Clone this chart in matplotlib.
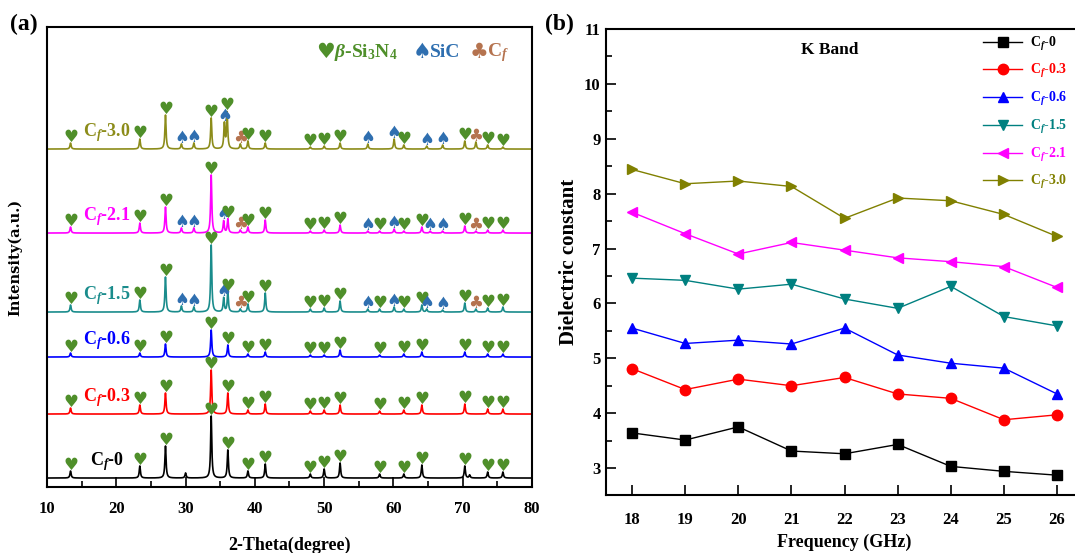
import numpy as np
import matplotlib
matplotlib.use("Agg")
import matplotlib.pyplot as plt

plt.rcParams['font.family'] = ['Liberation Serif', 'DejaVu Sans']
plt.rcParams['font.weight'] = 'bold'
plt.rcParams['axes.labelweight'] = 'bold'
plt.rcParams['mathtext.fontset'] = 'custom'
plt.rcParams['mathtext.rm'] = 'Liberation Serif:bold'
plt.rcParams['mathtext.it'] = 'Liberation Serif:italic:bold'
plt.rcParams['mathtext.bf'] = 'Liberation Serif:bold'

# ---- (a) XRD data: peaks as (2theta, height, phase) ----
# phase: h = beta-Si3N4, s = SiC, c = Cf, '' = not marked
labels = ['C$_f$-0', 'C$_f$-0.3', 'C$_f$-0.6', 'C$_f$-1.5', 'C$_f$-2.1', 'C$_f$-3.0']
line_colors = ['#000000', '#ff0000', '#0000ff', '#1a8c8c', '#ff00ff', '#8c8c1a']
offsets = [9, 73, 130, 175, 254, 338]

peaks_cf0 = [(13.4, 7, 'h'), (23.4, 12, 'h'), (27.1, 32, 'h'), (30.0, 5, ''),
             (33.7, 62, 'h'), (36.1, 28, 'h'), (39.0, 7, 'h'), (41.5, 14, 'h'),
             (48.0, 4, 'h'), (50.0, 9, 'h'), (52.3, 15, 'h'), (58.0, 4, 'h'),
             (61.5, 4, 'h'), (64.1, 13, 'h'), (70.3, 12, 'h'), (71.0, 3, ''),
             (73.6, 6, 'h'), (75.8, 6, 'h')]
peaks_cf03 = [(13.4, 6, 'h'), (23.4, 9, 'h'), (27.1, 21, 'h'), (33.7, 44, 'h'),
              (36.1, 21, 'h'), (39.0, 4, 'h'), (41.5, 10, 'h'), (48.0, 3, 'h'),
              (50.0, 4, 'h'), (52.3, 9, 'h'), (58.0, 3, 'h'), (61.5, 4, 'h'),
              (64.1, 9, 'h'), (70.3, 10, 'h'), (73.6, 5, 'h'), (75.8, 5, 'h')]
peaks_cf06 = [(13.4, 4, 'h'), (23.4, 4, 'h'), (27.1, 13, 'h'), (33.7, 27, 'h'),
              (36.1, 12, 'h'), (39.0, 3, 'h'), (41.5, 5, 'h'), (48.0, 2, 'h'),
              (50.0, 2, 'h'), (52.3, 7, 'h'), (58.0, 2, 'h'), (61.5, 3, 'h'),
              (64.1, 5, 'h'), (70.3, 5, 'h'), (73.6, 3, 'h'), (75.8, 3, 'h')]
peaks_cf15 = [(13.4, 7, 'h'), (23.4, 12, 'h'), (27.1, 35, 'h'), (29.4, 6, 's'),
              (31.2, 5, 's'), (33.7, 67, 'h'), (35.5, 14, 's'), (36.1, 20, 'h'),
              (37.9, 3, 'c'), (39.0, 8, 'h'), (41.5, 19, 'h'), (48.0, 3, 'h'),
              (50.0, 4, 'h'), (52.3, 11, 'h'), (56.3, 3, 's'), (58.0, 3, 'h'),
              (60.1, 5, 's'), (61.5, 3, 'h'), (64.1, 7, 'h'), (64.8, 3, 's'),
              (67.1, 2, 's'), (70.3, 9, 'h'), (71.9, 3, 'c'), (73.6, 4, 'h'),
              (75.8, 5, 'h')]
peaks_cf21 = [(13.4, 6, 'h'), (23.4, 10, 'h'), (27.1, 26, 'h'), (29.4, 5, 's'),
              (31.2, 5, 's'), (33.7, 58, 'h'), (35.5, 12, 's'), (36.1, 14, 'h'),
              (37.9, 3, 'c'), (39.0, 6, 'h'), (41.5, 13, 'h'), (48.0, 2, 'h'),
              (50.0, 3, 'h'), (52.3, 8, 'h'), (56.3, 2, 's'), (58.0, 2, 'h'),
              (60.1, 4, 's'), (61.5, 2, 'h'), (64.1, 6, 'h'), (65.3, 2, 's'),
              (67.1, 2, 's'), (70.3, 7, 'h'), (71.9, 2, 'c'), (73.6, 3, 'h'),
              (75.8, 3, 'h')]
peaks_cf30 = [(13.4, 6, 'h'), (23.4, 10, 'h'), (27.1, 34, 'h'), (29.4, 5, 's'),
              (31.2, 6, 's'), (33.7, 31, 'h'), (35.6, 25, 's'), (36.0, 36, 'h'),
              (37.9, 5, 'c'), (39.0, 8, 'h'), (41.5, 6, 'h'), (48.0, 2, 'h'),
              (50.0, 3, 'h'), (52.3, 6, 'h'), (56.3, 5, 's'), (60.1, 10, 's'),
              (61.5, 4, 'h'), (64.8, 3, 's'), (67.1, 4, 's'), (70.3, 8, 'h'),
              (71.9, 7, 'c'), (73.6, 4, 'h'), (75.8, 2, 'h')]
all_peaks = [peaks_cf0, peaks_cf03, peaks_cf06, peaks_cf15, peaks_cf21, peaks_cf30]

# ---- (b) dielectric constant, K band ----
freq = [18, 19, 20, 21, 22, 23, 24, 25, 26]
eps_cf0 = [3.64, 3.51, 3.75, 3.31, 3.26, 3.43, 3.03, 2.94, 2.87]
eps_cf03 = [4.81, 4.43, 4.62, 4.50, 4.65, 4.35, 4.27, 3.88, 3.97]
eps_cf06 = [5.55, 5.27, 5.33, 5.26, 5.55, 5.06, 4.91, 4.82, 4.35]
eps_cf15 = [6.46, 6.42, 6.26, 6.35, 6.08, 5.91, 6.31, 5.76, 5.59]
eps_cf21 = [7.66, 7.27, 6.90, 7.11, 6.97, 6.83, 6.76, 6.67, 6.29]
eps_cf30 = [8.44, 8.18, 8.23, 8.13, 7.55, 7.92, 7.87, 7.62, 7.22]
all_eps = [eps_cf0, eps_cf03, eps_cf06, eps_cf15, eps_cf21, eps_cf30]
markers = ['s', 'o', '^', 'v', '<', '>']

phase_sym = {'h': ('\u2665', '#4f8f2a'), 's': ('\u2660', '#2f6fb0'), 'c': ('\u2663', '#b5734f')}

fig = plt.figure(figsize=(10.75, 5.53), dpi=100)

# ---------------- panel (a) ----------------
ax = fig.add_axes([0.0437, 0.1193, 0.4512, 0.8318])
tt = np.linspace(10, 80, 7001)
for peaks, off, col, lab in zip(all_peaks, offsets, line_colors, labels):
    y = np.zeros_like(tt)
    for pos, h, ph in peaks:
        y += h / (1 + ((tt - pos) / 0.1) ** 2)
    ax.plot(tt, y + off, color=col, lw=1.2)
    for pos, h, ph in peaks:
        if ph == '':
            continue
        near = (tt > pos - 0.12) & (tt < pos + 0.12)
        top = y[near].max() + off
        sym, c = phase_sym[ph]
        ax.text(pos, top + 1, sym, color=c, family='DejaVu Sans', fontsize=12,
                ha='center', va='baseline')
    ax.text(18.6, off + 16, lab, color=col, fontsize=13, ha='center', va='center')

ax.set_xlim(10, 80)
ax.set_ylim(0, 460)
ax.set_xticks(range(10, 81, 10))
ax.set_xticks(range(15, 80, 10), minor=True)
ax.set_yticks([])
ax.tick_params(axis='x', direction='in', length=7, width=1.2, labelsize=12, pad=10)
ax.tick_params(axis='x', which='minor', direction='in', length=4, width=1.2)
for s in ax.spines.values():
    s.set_linewidth(1.5)
ax.set_xlabel('2-Theta(degree)', fontsize=13, labelpad=14)
ax.set_ylabel('Intensity(a.u.)', fontsize=10.5, family='DejaVu Serif')
ax.yaxis.set_label_coords(-0.05, 0.5)

# phase key
ky = 0.945
ax.text(0.575, ky, '\u2665', color='#4f8f2a', family='DejaVu Sans', fontsize=15,
        transform=ax.transAxes, ha='center', va='center')
ax.text(0.592, ky, r'$\beta$-Si$_3$N$_4$', color='#4f8f2a', fontsize=14,
        transform=ax.transAxes, ha='left', va='center')
ax.text(0.773, ky, '\u2660', color='#2f6fb0', family='DejaVu Sans', fontsize=15,
        transform=ax.transAxes, ha='center', va='center')
ax.text(0.790, ky, 'SiC', color='#2f6fb0', fontsize=14,
        transform=ax.transAxes, ha='left', va='center')
ax.text(0.891, ky, '\u2663', color='#b5734f', family='DejaVu Sans', fontsize=15,
        transform=ax.transAxes, ha='center', va='center')
ax.text(0.907, ky, 'C$_f$', color='#b5734f', fontsize=14,
        transform=ax.transAxes, ha='left', va='center')

fig.text(0.009, 0.955, '(a)', fontsize=17, va='center')

# ---------------- panel (b) ----------------
bx = fig.add_axes([0.5633, 0.104, 0.4447, 0.8436])
leg_colors = ['#000000', '#ff0000', '#0000ff', '#008080', '#ff00ff', '#808000']
for eps, col, mk, lab in zip(all_eps, leg_colors, markers, labels):
    bx.plot(freq, eps, color=col, marker=mk, markersize=7.5, lw=1, label=lab)
bx.set_xlim(17.5, 26.5)
bx.set_ylim(2.5, 11)
bx.set_xticks(freq)
bx.set_yticks(range(3, 12))
bx.set_yticks(np.arange(3.5, 11, 1), minor=True)
bx.tick_params(direction='in', length=7, width=1.2, labelsize=12)
bx.tick_params(axis='x', pad=12)
bx.tick_params(which='minor', direction='in', length=4, width=1.2)
for s in bx.spines.values():
    s.set_linewidth(1.5)
bx.set_xlabel('Frequency (GHz)', fontsize=13, labelpad=4)
bx.set_ylabel('Dielectric constant', fontsize=15, labelpad=4)
bx.text(0.47, 0.955, 'K Band', fontsize=12.5, transform=bx.transAxes,
        ha='center', va='center')
leg = bx.legend(loc='upper left', bbox_to_anchor=(0.903, 0.96),
                bbox_transform=fig.transFigure, frameon=False, fontsize=10,
                handlelength=2.8, handletextpad=0.6, labelspacing=0.7)
for txt, col in zip(leg.get_texts(), leg_colors):
    txt.set_color(col)

fig.text(0.507, 0.955, '(b)', fontsize=17, va='center')

fig.savefig('out.png', dpi=100)
